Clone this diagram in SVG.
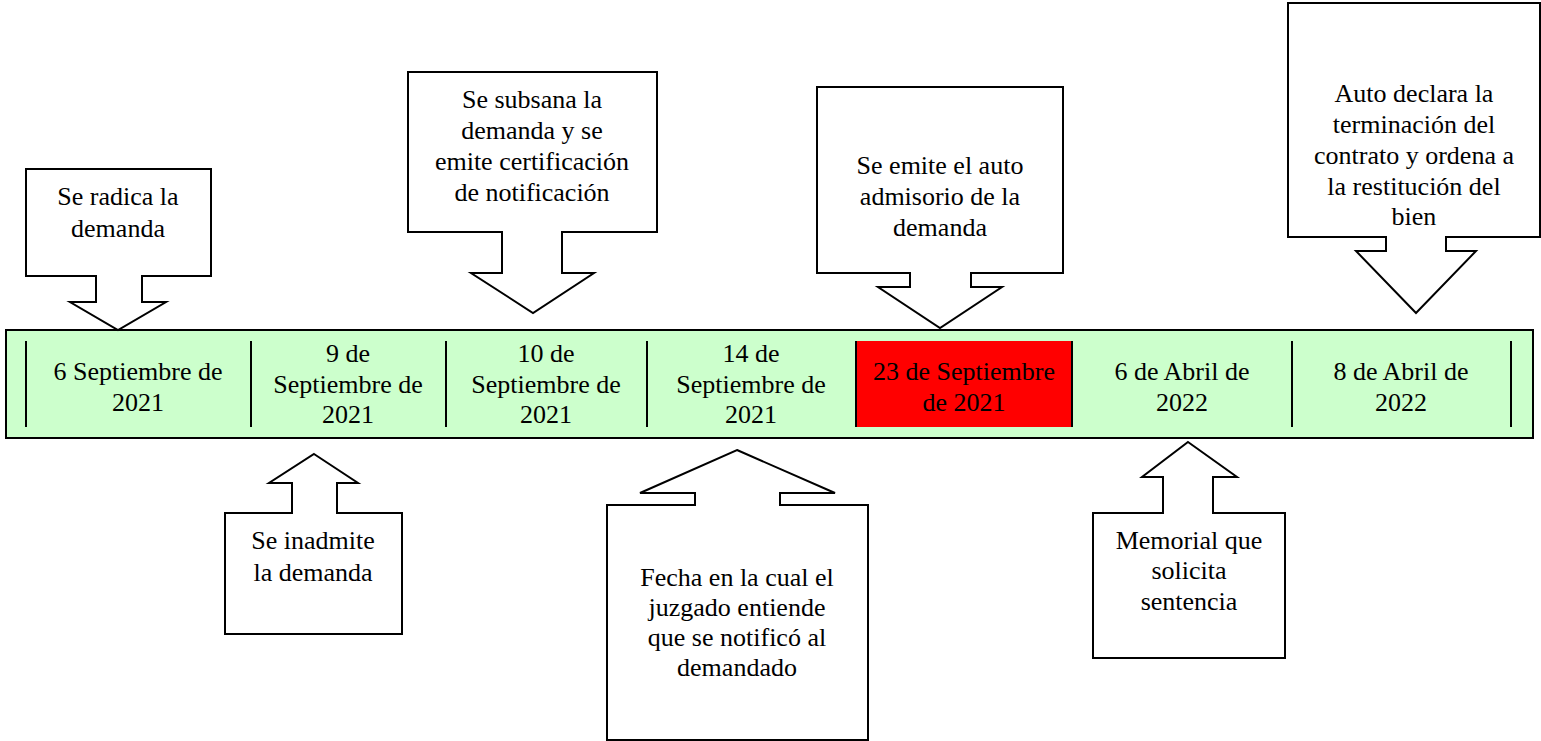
<svg xmlns="http://www.w3.org/2000/svg" width="1541" height="741" viewBox="0 0 1541 741">
<style>
.call{fill:#fff;stroke:#000;stroke-width:2;stroke-linejoin:miter}
.t{font-family:"Liberation Serif","Times New Roman",serif;font-size:26px;fill:#000;text-anchor:middle}
.div{stroke:#000;stroke-width:2}
</style>
<rect width="1541" height="741" fill="#fff"/>
<g id="timeline">
<rect x="6" y="330" width="1527" height="108" fill="#CCFFCC" stroke="#000" stroke-width="2"/>
<rect x="856" y="341" width="216" height="86" fill="#FF0000"/>
<line class="div" x1="26" y1="341" x2="26" y2="427"/>
<line class="div" x1="251" y1="341" x2="251" y2="427"/>
<line class="div" x1="446" y1="341" x2="446" y2="427"/>
<line class="div" x1="647" y1="341" x2="647" y2="427"/>
<line class="div" x1="856" y1="341" x2="856" y2="427"/>
<line class="div" x1="1072" y1="341" x2="1072" y2="427"/>
<line class="div" x1="1292" y1="341" x2="1292" y2="427"/>
<line class="div" x1="1511" y1="341" x2="1511" y2="427"/>
</g>
<g id="d1"><text class="t" x="138" y="380">6 Septiembre de</text><text class="t" x="138" y="411">2021</text></g>
<g id="d2"><text class="t" x="348" y="362">9 de</text><text class="t" x="348" y="393">Septiembre de</text><text class="t" x="348" y="423">2021</text></g>
<g id="d3"><text class="t" x="546" y="362">10 de</text><text class="t" x="546" y="393">Septiembre de</text><text class="t" x="546" y="423">2021</text></g>
<g id="d4"><text class="t" x="751" y="362">14 de</text><text class="t" x="751" y="393">Septiembre de</text><text class="t" x="751" y="423">2021</text></g>
<g id="d5"><text class="t" x="964" y="380">23 de Septiembre</text><text class="t" x="964" y="411">de 2021</text></g>
<g id="d6"><text class="t" x="1182" y="380">6 de Abril de</text><text class="t" x="1182" y="411">2022</text></g>
<g id="d7"><text class="t" x="1401" y="380">8 de Abril de</text><text class="t" x="1401" y="411">2022</text></g>

<g id="c1">
<path class="call" d="M26,169 H211 V276 H142 V302 H166 L118,330 L70,302 H96 V276 H26 Z"/>
<text class="t" x="118" y="205">Se radica la</text><text class="t" x="118" y="237">demanda</text>
</g>
<g id="c2">
<path class="call" d="M408,72 H657 V232 H562 V273 H594 L533,313 L471,273 H502 V232 H408 Z"/>
<text class="t" x="532" y="108">Se subsana la</text><text class="t" x="532" y="139">demanda y se</text><text class="t" x="532" y="170">emite certificación</text><text class="t" x="532" y="201">de notificación</text>
</g>
<g id="c3">
<path class="call" d="M817,87 H1063 V273 H971 V287 H1002 L940,328 L878,287 H910 V273 H817 Z"/>
<text class="t" x="940" y="174">Se emite el auto</text><text class="t" x="940" y="205">admisorio de la</text><text class="t" x="940" y="236">demanda</text>
</g>
<g id="c4">
<path class="call" d="M1288,3 H1540 V237 H1446 V251 H1476 L1416,313 L1356,251 H1386 V237 H1288 Z"/>
<text class="t" x="1414" y="102">Auto declara la</text><text class="t" x="1414" y="133">terminación del</text><text class="t" x="1414" y="164">contrato y ordena a</text><text class="t" x="1414" y="195">la restitución del</text><text class="t" x="1414" y="225">bien</text>
</g>
<g id="c5">
<path class="call" d="M314,454 L358,483 H337 V513 H402 V634 H225 V513 H292 V483 H269 Z"/>
<text class="t" x="313" y="549">Se inadmite</text><text class="t" x="313" y="581">la demanda</text>
</g>
<g id="c6">
<path class="call" d="M737,450 L835,493 H780 V505 H868 V740 H607 V505 H695 V493 H640 Z"/>
<text class="t" x="737" y="586">Fecha en la cual el</text><text class="t" x="737" y="616">juzgado entiende</text><text class="t" x="737" y="646">que se notificó al</text><text class="t" x="737" y="676">demandado</text>
</g>
<g id="c7">
<path class="call" d="M1188,442 L1237,477 H1213 V513 H1285 V658 H1093 V513 H1163 V477 H1142 Z"/>
<text class="t" x="1189" y="549">Memorial que</text><text class="t" x="1189" y="579">solicita</text><text class="t" x="1189" y="610">sentencia</text>
</g>
<g id="connectors"></g>
</svg>
